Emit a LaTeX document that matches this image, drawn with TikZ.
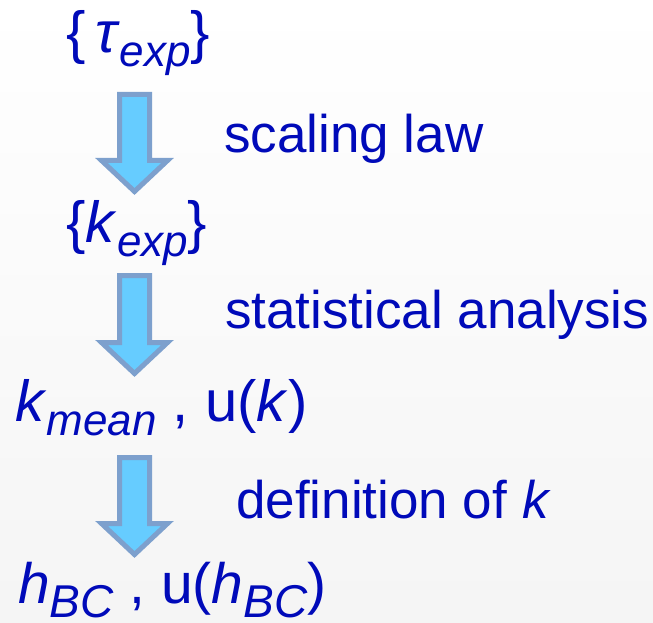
\documentclass[tikz,border=0pt]{standalone}
\usepackage{fontspec}
\setmainfont{Liberation Sans}
\usetikzlibrary{calc}
\definecolor{textblue}{RGB}{0,10,185}
\definecolor{arrowfill}{RGB}{102,204,255}
\definecolor{arrowedge}{RGB}{125,160,205}
\newcommand\lowsub[2][44]{\raisebox{-14bp}{\fontsize{#1bp}{50bp}\selectfont\itshape #2}}

\begin{document}
\begin{tikzpicture}[x=1bp,y=-1bp,
  label/.style={anchor=base west,inner sep=0pt,text=textblue,font=\fontsize{53bp}{64bp}\selectfont},
  quantity/.style={label,font=\fontsize{58bp}{64bp}\selectfont},
  blockarrow/.style={draw=arrowedge,fill=arrowfill,line width=5bp,line join=miter,
    to path={let \p1=(\tikztostart), \p2=(\tikztotarget) in
      (\x1-15bp,\y1) -- (\x1+15bp,\y1) -- (\x1+15bp,\y2+31bp) -- (\x1+33bp,\y2+31bp)
      -- (\x2,\y2) -- (\x1-33bp,\y2+31bp) -- (\x1-15bp,\y2+31bp) -- cycle}}]
\useasboundingbox (0,0) rectangle (653,623);
\fill[top color=white,bottom color=black!4] (0,0) rectangle (653,623);
% quantities
\node[quantity] (tau) at (66,53) {\{\,\textit{τ}\lowsub{exp}\}};
\node[quantity] (kexp) at (66,242) {\{\textit{k}\lowsub{exp}\}};
\node[quantity] (kmean) at (15,421) {\textit{k}\lowsub{mean} , u(\textit{k})};
\node[quantity,font=\fontsize{57bp}{64bp}\selectfont] (hbc) at (18,603) {\textit{h}\lowsub[46]{BC} , u(\textit{h}\lowsub[46]{BC})};
% steps
\node[label] (law) at (224,153) {scaling law};
\node[label] (stat) at (225,328) {statistical analysis};
\node[label] (defk) at (236,518) {definition of \textit{k}};
% arrows
\coordinate (t1) at (134.5,94.5); \coordinate (b1) at (134.5,191.5);
\coordinate (t2) at (134.5,275.5); \coordinate (b2) at (134.5,373.5);
\coordinate (t3) at (134.5,457.5); \coordinate (b3) at (134.5,554.5);
\draw[blockarrow] (t1) to (b1);
\draw[blockarrow] (t2) to (b2);
\draw[blockarrow] (t3) to (b3);
\end{tikzpicture}
\end{document}
